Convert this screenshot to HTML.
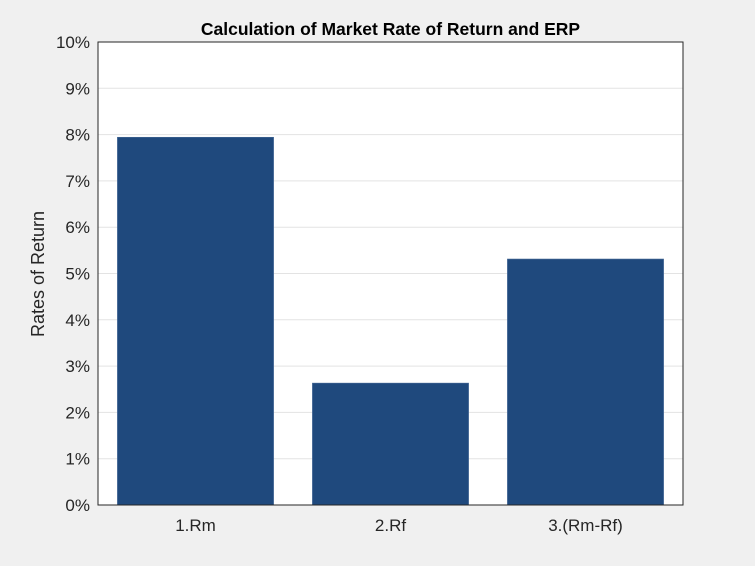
<!DOCTYPE html>
<html><head><meta charset="utf-8"><style>
html,body{margin:0;padding:0;background:#f0f0f0;}
svg{display:block;font-family:"Liberation Sans",Arial,sans-serif;}
</style></head><body>
<svg id="chart" width="755" height="566">
<rect x="0" y="0" width="755" height="566" fill="#f0f0f0"/>
<rect x="98" y="42" width="585" height="463" fill="#ffffff"/>
<g id="grid"></g><g id="bars"></g>
<rect x="98" y="42" width="585" height="463" fill="none" stroke="#262626" stroke-width="1"/>
<g id="yticks"></g><g id="xticks"></g>
<text x="390.5" y="35" text-anchor="middle" font-size="17.5" font-weight="bold" fill="#000">Calculation of Market Rate of Return and ERP</text>
<text transform="translate(44,274) rotate(-90)" text-anchor="middle" font-size="18" fill="#262626">Rates of Return</text>
</svg>
<script>
const categories = ["1.Rm", "2.Rf", "3.(Rm-Rf)"];
const values = [7.94, 2.63, 5.31];
const yTicks = [0,1,2,3,4,5,6,7,8,9,10];
const yTickLabels = ["0%","1%","2%","3%","4%","5%","6%","7%","8%","9%","10%"];
const NS="http://www.w3.org/2000/svg";
const L=98,R=683,T=42,B=505;
function yScale(v){return B-(v/10)*(B-T);}
function xScale(i){return L+(i+0.5)*(R-L)/categories.length;}
const bw=0.8*(R-L)/categories.length;
const grid=document.getElementById('grid'),bars=document.getElementById('bars'),yt=document.getElementById('yticks'),xt=document.getElementById('xticks');
yTicks.forEach((t,i)=>{
  const y=yScale(t);
  if(t>0&&t<10){const g=document.createElementNS(NS,'line');
  g.setAttribute('x1',L);g.setAttribute('x2',R);g.setAttribute('y1',y);g.setAttribute('y2',y);
  g.setAttribute('stroke','#e3e3e3');
  
  
  grid.appendChild(g);}
  const tx=document.createElementNS(NS,'text');
  tx.setAttribute('x',L-8);tx.setAttribute('y',y+6);tx.setAttribute('text-anchor','end');
  tx.setAttribute('font-size','17');tx.setAttribute('fill','#262626');tx.textContent=yTickLabels[i];
  
  
  yt.appendChild(tx);
});
categories.forEach((c,i)=>{
  const cx=xScale(i),y=yScale(values[i]);
  const r=document.createElementNS(NS,'rect');
  r.setAttribute('x',cx-bw/2);r.setAttribute('y',y);r.setAttribute('width',bw);r.setAttribute('height',B-y);
  r.setAttribute('fill','#1f497d');r.setAttribute('stroke','#3a5f8f');r.setAttribute('stroke-width','0.8');
  
  
  bars.appendChild(r);
  const tx=document.createElementNS(NS,'text');
  tx.setAttribute('x',cx);tx.setAttribute('y',B+26);tx.setAttribute('text-anchor','middle');
  tx.setAttribute('font-size','17');tx.setAttribute('fill','#262626');tx.textContent=c;
  
  
  xt.appendChild(tx);
});
</script>
</body></html>
